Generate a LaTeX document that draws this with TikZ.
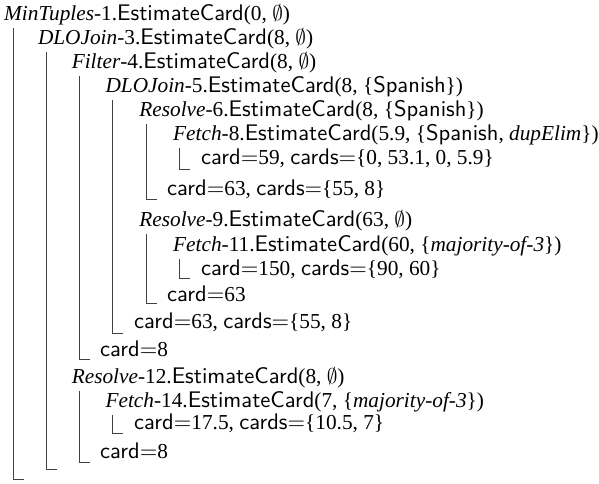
\documentclass[tikz,border=0pt]{standalone}
\usepackage{fontspec}
\setmainfont{Liberation Serif}
\setsansfont{lmsans10-regular.otf}[Scale=1.06]
\begin{document}
\begin{tikzpicture}[x=1pt,y=-1pt,
  line/.style={anchor=base west, inner sep=0pt, font=\fontsize{10}{12}\selectfont},
  rule/.style={draw=black!75, line width=0.9pt}]
\newcommand{\op}[1]{\textsf{#1}}
\newcommand{\nul}{$\emptyset$}
\newcommand{\trace}[1]{\scalebox{2.13}{#1}}
\useasboundingbox (0,0) rectangle (599,483);

% call trace
\node[line] (r1)  at (4,20)    {\trace{\textit{MinTuples}-1.\op{EstimateCard}(0, \nul)}};
\node[line] (r2)  at (37.8,44) {\trace{\textit{DLOJoin}-3.\op{EstimateCard}(8, \nul)}};
\node[line] (r3)  at (71.6,68) {\trace{\textit{Filter}-4.\op{EstimateCard}(8, \nul)}};
\node[line] (r4)  at (105.4,92) {\trace{\textit{DLOJoin}-5.\op{EstimateCard}(8, \{\op{Spanish}\})}};
\node[line] (r5)  at (139.2,116) {\trace{\textit{Resolve}-6.\op{EstimateCard}(8, \{\op{Spanish}\})}};
\node[line] (r6)  at (173,140) {\trace{\textit{Fetch}-8.\op{EstimateCard}(5.9, \{\op{Spanish}, \textit{dupElim}\})}};
\node[line] (r7)  at (201,164) {\trace{\op{card=}59, \op{cards=}\{0, 53.1, 0, 5.9\}}};
\node[line] (r8)  at (167,195) {\trace{\op{card=}63, \op{cards=}\{55, 8\}}};
\node[line] (r9)  at (139.2,226) {\trace{\textit{Resolve}-9.\op{EstimateCard}(63, \nul)}};
\node[line] (r10) at (173,251) {\trace{\textit{Fetch}-11.\op{EstimateCard}(60, \{\textit{majority-of-3}\})}};
\node[line] (r11) at (201,275) {\trace{\op{card=}150, \op{cards=}\{90, 60\}}};
\node[line] (r12) at (167,301) {\trace{\op{card=}63}};
\node[line] (r13) at (134,328) {\trace{\op{card=}63, \op{cards=}\{55, 8\}}};
\node[line] (r14) at (100,356) {\trace{\op{card=}8}};
\node[line] (r15) at (71.6,383) {\trace{\textit{Resolve}-12.\op{EstimateCard}(8, \nul)}};
\node[line] (r16) at (105.4,407) {\trace{\textit{Fetch}-14.\op{EstimateCard}(7, \{\textit{majority-of-3}\})}};
\node[line] (r17) at (134,429) {\trace{\op{card=}17.5, \op{cards=}\{10.5, 7\}}};
\node[line] (r18) at (100,458) {\trace{\op{card=}8}};

% block rules
\draw[rule] (13,28)    |- (23.5,479);
\draw[rule] (46,52)    |- (56.5,469);
\draw[rule] (79,76)    |- (89.5,359);
\draw[rule] (112.5,100) |- (123,333);
\draw[rule] (146,124)  |- (156.5,199);
\draw[rule] (179,148)  |- (189.5,169);
\draw[rule] (146,234)  |- (156.5,303);
\draw[rule] (179,259)  |- (189.5,278);
\draw[rule] (79,391)   |- (89.5,462);
\draw[rule] (112.5,415) |- (123,433);
\end{tikzpicture}
\end{document}
